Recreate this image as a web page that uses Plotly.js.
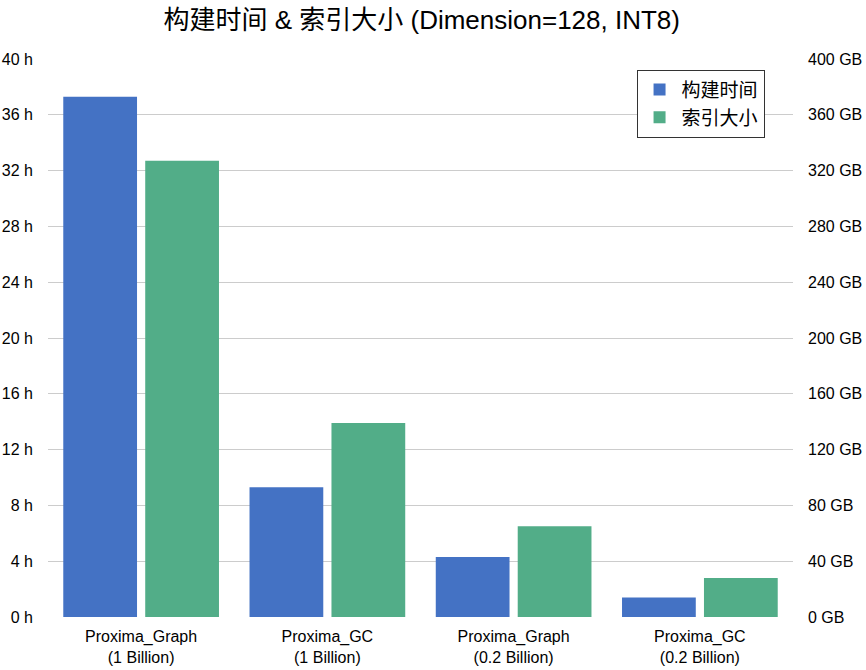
<!DOCTYPE html>
<html>
<head>
<meta charset="utf-8">
<script src="https://cdn.plot.ly/plotly-3.0.1.min.js"></script>
<style>
  html, body { margin: 0; padding: 0; background: #fff; }
  #chart { width: 866px; height: 670px; }
</style>
</head>
<body>
<div id="chart"></div>
<script>
// categories and values
const categories = [
  'Proxima_Graph<br>(1 Billion)',
  'Proxima_GC<br>(1 Billion)',
  'Proxima_Graph<br>(0.2 Billion)',
  'Proxima_GC<br>(0.2 Billion)'
];
const buildHours = [37.3, 9.3, 4.3, 1.4];   // 构建时间 (h)
const indexGB = [327, 139, 65, 28];         // 索引大小 (GB)

const hourTicks = [0, 4, 8, 12, 16, 20, 24, 28, 32, 36, 40];
const gbTicks = [0, 40, 80, 120, 160, 200, 240, 280, 320, 360, 400];

const FONT = 'Liberation Sans, Arial, "Noto Sans CJK SC", sans-serif';

const traces = [
  {
    type: 'bar',
    name: '构建时间',
    x: categories,
    y: buildHours,
    yaxis: 'y',
    offsetgroup: 'a',
    marker: { color: '#4472c4' },
    hoverinfo: 'skip'
  },
  {
    type: 'bar',
    name: '索引大小',
    x: categories,
    y: indexGB,
    yaxis: 'y2',
    offsetgroup: 'b',
    marker: { color: '#52ad88' },
    hoverinfo: 'skip'
  }
];

const layout = {
  width: 866,
  height: 670,
  margin: { l: 48, r: 73, t: 59, b: 53 },
  paper_bgcolor: '#fff',
  plot_bgcolor: '#fff',
  font: { family: FONT, color: '#000', size: 15 },
  title: {
    text: '构建时间 & 索引大小 (Dimension=128, INT8)',
    font: { family: FONT, size: 26, color: '#000' },
    x: 0.487,
    xanchor: 'center',
    y: 0.97,
    yanchor: 'middle'
  },
  barmode: 'group',
  bargap: 0.12,
  bargroupgap: 0.1,
  showlegend: true,
  legend: {
    x: 0.79,
    y: 0.981,
    xanchor: 'left',
    yanchor: 'top',
    bgcolor: '#fff',
    bordercolor: '#333',
    borderwidth: 1,
    font: { family: FONT, size: 19 },
    itemwidth: 34,
    tracegroupgap: 0
  },
  xaxis: {
    type: 'category',
    showgrid: false,
    showline: false,
    ticks: '',
    ticklabelstandoff: 8,
    tickfont: { family: FONT, size: 16 },
    fixedrange: true
  },
  yaxis: {
    range: [0, 40],
    tickvals: hourTicks,
    ticktext: hourTicks.map(v => v + ' h'),
    showgrid: true,
    gridcolor: '#cccccc',
    gridwidth: 1,
    zeroline: false,
    showline: false,
    ticks: '',
    ticklabelstandoff: 14,
    tickfont: { family: FONT, size: 16 },
    fixedrange: true
  },
  yaxis2: {
    overlaying: 'y',
    side: 'right',
    range: [0, 400],
    tickvals: gbTicks,
    ticktext: gbTicks.map(v => v + ' GB'),
    showgrid: false,
    zeroline: false,
    showline: false,
    ticks: '',
    ticklabelstandoff: 14,
    tickfont: { family: FONT, size: 16 },
    fixedrange: true
  }
};

Plotly.newPlot('chart', traces, layout, { displayModeBar: false, staticPlot: true });
</script>
</body>
</html>
